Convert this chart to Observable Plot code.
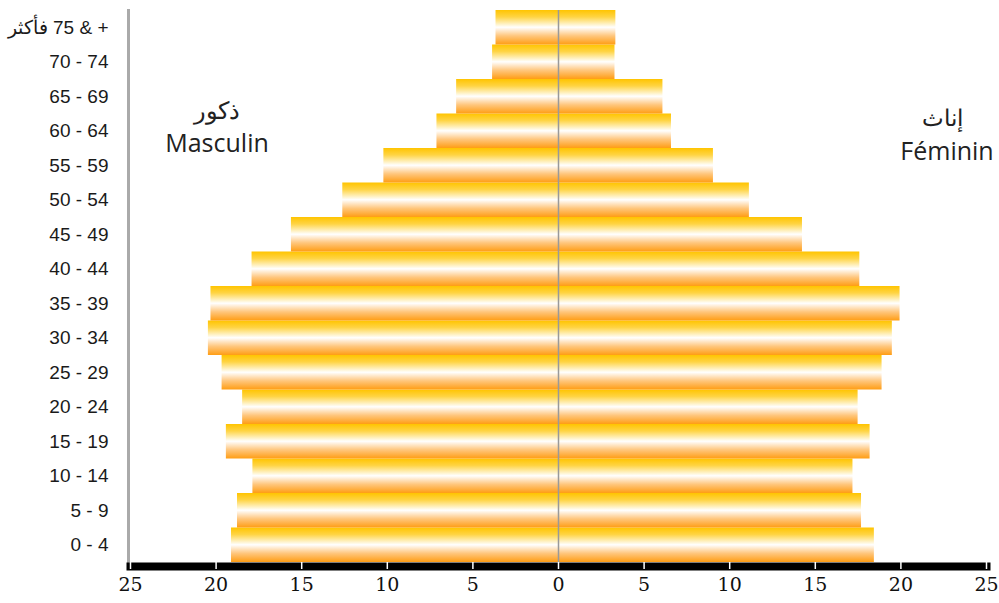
<!DOCTYPE html>
<html>
<head>
<meta charset="utf-8">
<script src="https://cdn.jsdelivr.net/npm/d3@7"></script>
<script src="https://cdn.jsdelivr.net/npm/@observablehq/plot@0.6"></script>
<style>
  body { margin: 0; background: #fff; }
  #chart { position: relative; width: 999px; height: 603px; }
  .lbl { position: absolute; font-family: "Open Sans", sans-serif; color: #222; text-align: center; line-height: 1; white-space: nowrap; }
  g[aria-label="frame"] { filter: drop-shadow(2px 3px 2px rgba(0,0,0,0.45)); }
  .serif text, text.serif { font-family: "DejaVu Serif", "Liberation Serif", serif; }
</style>
</head>
<body>
<div id="chart"></div>
<script>
const ageGroups = ["0 - 4", "5 - 9", "10 - 14", "15 - 19", "20 - 24", "25 - 29", "30 - 34", "35 - 39",
  "40 - 44", "45 - 49", "50 - 54", "55 - 59", "60 - 64", "65 - 69", "70 - 74", "فأكثر\u200E 75 & +"];
const male =   [19.1, 18.75, 17.85, 19.4, 18.45, 19.65, 20.45, 20.3, 17.9, 15.6, 12.6, 10.2, 7.1, 5.95, 3.85, 3.65];
const female = [18.45, 17.7, 17.2, 18.2, 17.5, 18.9, 19.5, 19.95, 17.6, 14.25, 11.15, 9.05, 6.6, 6.1, 3.3, 3.35];
const xTicks = [-25, -20, -15, -10, -5, 0, 5, 10, 15, 20, 25];

const rows = ageGroups.flatMap((g, i) => [
  {group: g, sex: "M", value: -male[i]},
  {group: g, sex: "F", value: female[i]}
]);

const defs = () => {
  const d = d3.create("svg:defs");
  const lg = d.append("linearGradient").attr("id", "barGrad")
    .attr("x1", 0).attr("y1", 0).attr("x2", 0).attr("y2", 1);
  [["0%", "#ffc400"], ["20%", "#ffd443"], ["50%", "#ffffff"], ["75%", "#ffc67c"], ["100%", "#ff9d14"]]
    .forEach(([o, c]) => lg.append("stop").attr("offset", o).attr("stop-color", c));
  return d.node();
};

const plot = Plot.plot({
  width: 999,
  height: 603,
  marginLeft: 130,
  marginRight: 13,
  marginTop: 10,
  marginBottom: 41,
  x: {domain: [-25, 25], axis: null},
  y: {domain: ageGroups.slice().reverse(), padding: 0, round: false, axis: null},
  marks: [
    defs,
    Plot.barX(rows, {y: "group", x1: 0, x2: "value", fill: "url(#barGrad)"}),
    Plot.ruleX([0], {stroke: "#999", strokeWidth: 1.5}),
    Plot.frame({anchor: "left", stroke: "#aaa", strokeWidth: 3, dx: -2}),
    Plot.frame({anchor: "bottom", stroke: "#000", strokeWidth: 8, dy: 4}),
    Plot.tickX(xTicks, {x: d => d, frameAnchor: "bottom", stroke: "#fff", strokeWidth: 1.5,
      insetTop: 545, dy: 7}),
    Plot.text(xTicks, {x: d => d, text: d => String(Math.abs(d)), frameAnchor: "bottom", dy: 28,
      fontFamily: "DejaVu Serif", fontSize: 19, fill: "#111", ariaLabel: "xlabels"}),
    Plot.text(ageGroups, {y: d => d, text: d => d, frameAnchor: "left", textAnchor: "end", dx: -22,
      fontFamily: "Liberation Sans", fontSize: 19, fill: "#1a1a1a"})
  ]
});
d3.select(plot).selectAll("g[aria-label='xlabels'] text")
  .style("font-family", "'DejaVu Serif', 'Liberation Serif', serif");
const chart = document.getElementById("chart");
chart.appendChild(plot);

const labels = [
  {t: "ذكور", cx: 217, top: 98, size: 24},
  {t: "Masculin", cx: 217, top: 130, size: 25},
  {t: "إناث", cx: 942, top: 106, size: 23},
  {t: "Féminin", cx: 947, top: 138, size: 25}
];
labels.forEach(l => {
  const div = document.createElement("div");
  div.className = "lbl";
  div.style.left = (l.cx - 80) + "px";
  div.style.width = "160px";
  div.style.top = l.top + "px";
  div.style.fontSize = l.size + "px";
  div.textContent = l.t;
  chart.appendChild(div);
});
</script>
</body>
</html>
